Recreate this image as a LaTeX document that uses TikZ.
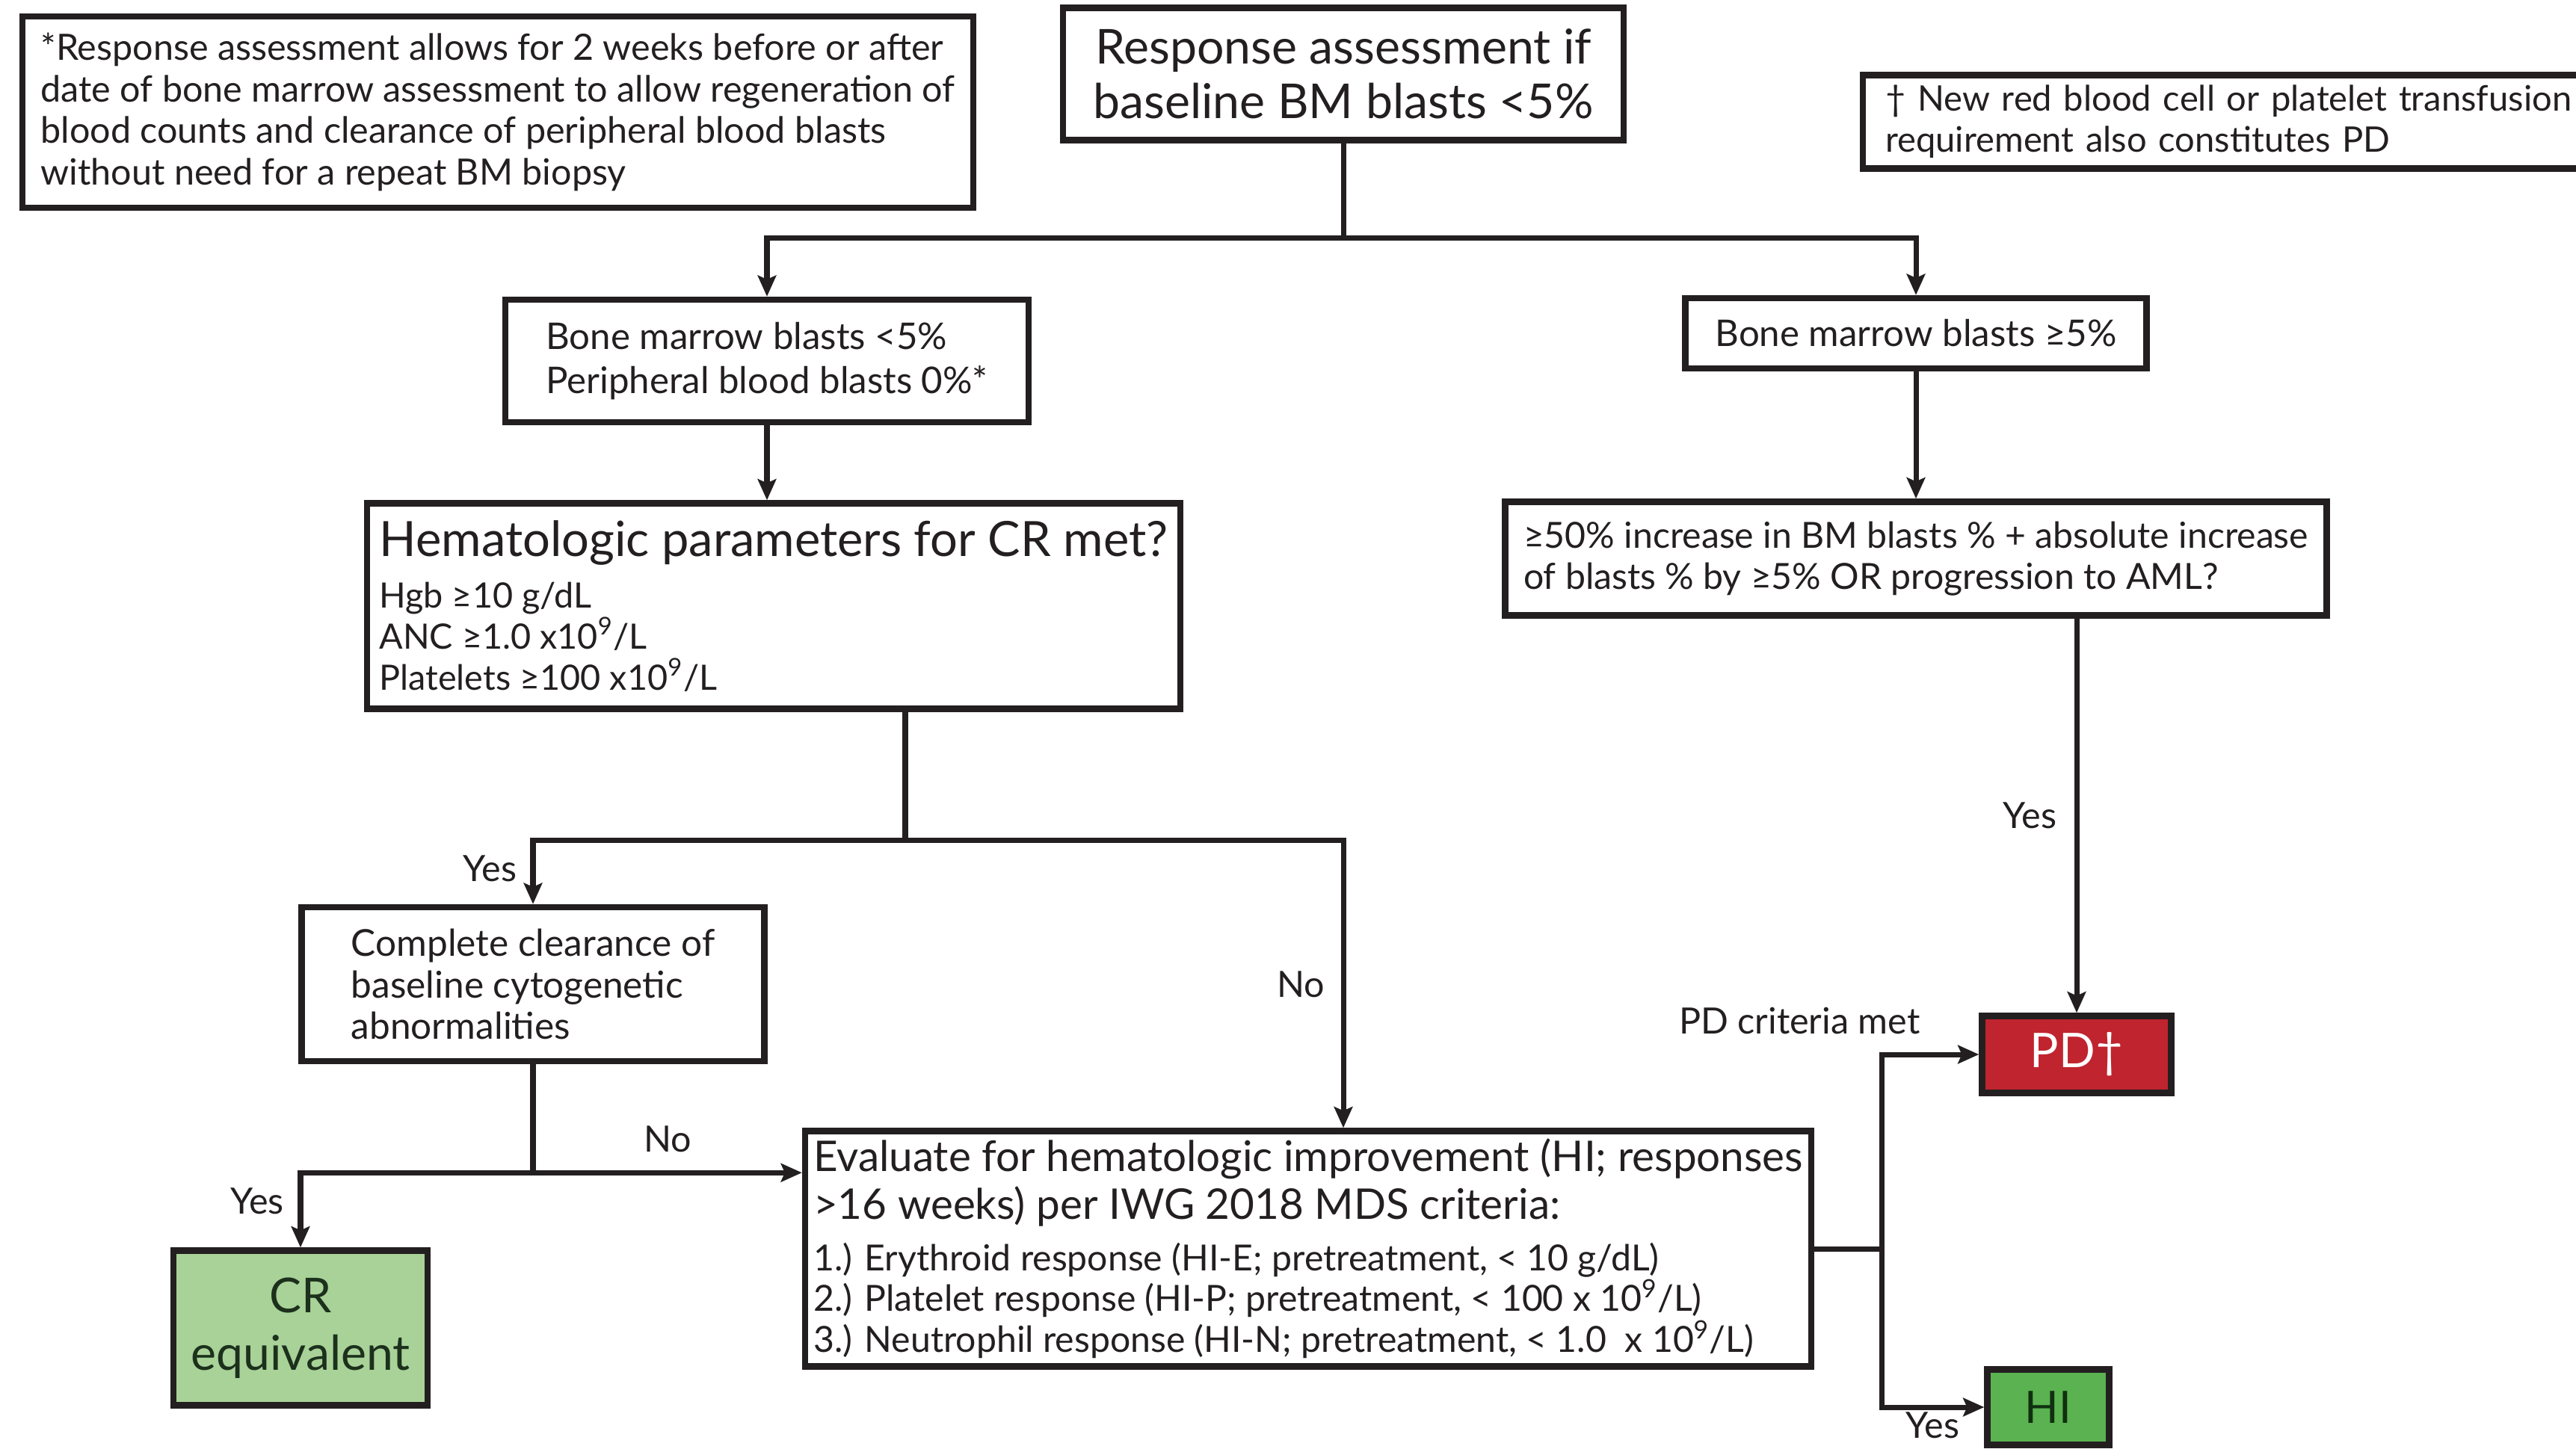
\documentclass[tikz,border=0pt]{standalone}
\usepackage{fontspec}
\setmainfont{Lato}
\usetikzlibrary{arrows.meta, positioning}
\definecolor{inkDark}{RGB}{35,31,32}
\definecolor{crGreen}{RGB}{168,210,152}
\definecolor{crText}{RGB}{28,48,28}
\definecolor{hiGreen}{RGB}{90,178,80}
\definecolor{hiText}{RGB}{16,48,16}
\definecolor{pdRed}{RGB}{192,36,47}

\begin{document}
\begin{tikzpicture}[
    box/.style={rectangle, draw=inkDark, line width=2.4pt, text=inkDark, align=left, inner sep=3pt, font=\fontsize{13.7}{15.6}\selectfont},
    endbox/.style={box, align=center},
    link/.style={draw=inkDark, line width=2pt},
    arrow/.style={link, -{Stealth[length=8pt,width=7pt,inset=1.5pt]}},
    branchlabel/.style={font=\fontsize{13.8}{15.6}\selectfont, text=inkDark, inner sep=1pt}
]
\useasboundingbox (0,0) rectangle (34.46,-19.42);
\fill[white] (0,0) rectangle (34.46,-19.42);

% notes
\node[box, font=\fontsize{13.8}{15.8}\selectfont, minimum width=12.72cm, minimum height=2.56cm] (note) at (6.66,-1.50) {*Response assessment allows for 2 weeks before or after\\ date of bone marrow assessment to allow regeneration of\\ blood counts and clearance of peripheral blood blasts\\ without need for a repeat BM biopsy};
\node[box, font=\fontsize{13.4}{15.6}\selectfont, anchor=west, text width=10.6cm, inner xsep=0.3cm, minimum height=1.25cm] (dagger) at (24.88,-1.63) {† New red blood cell or platelet transfusion\\ requirement also constitutes PD};

% decision boxes
\node[box, align=center, font=\fontsize{18.3}{20.6}\selectfont, minimum width=7.5cm, minimum height=1.77cm] (start) at (17.97,-0.99) {Response assessment if\\ baseline BM blasts <5\%};
\node[box, font=\fontsize{14}{16.8}\selectfont, minimum width=7.0cm, minimum height=1.64cm] (bmlow) at (10.26,-4.83) {Bone marrow blasts <5\%\\ Peripheral blood blasts 0\%*};
\node[box, font=\fontsize{14}{16.8}\selectfont, minimum width=6.17cm, minimum height=0.94cm] (bmhigh) at (25.63,-4.46) {Bone marrow blasts ≥5\%};
\node[box, font=\fontsize{13.3}{15.6}\selectfont, inner xsep=2pt, minimum width=10.88cm, minimum height=2.75cm] (hemat) at (10.35,-8.11) {\fontsize{18.5}{20}\selectfont Hematologic parameters for CR met?\\[4pt] Hgb ≥10 g/dL\\ ANC ≥1.0 x10\textsuperscript{9}/L\\ Platelets ≥100 x10\textsuperscript{9}/L};
\node[box, minimum width=10.99cm, minimum height=1.52cm, below=1.7cm of bmhigh] (incr) {≥50\% increase in BM blasts \% + absolute increase\\ of blasts \% by ≥5\% OR progression to AML?};
\node[box, font=\fontsize{14.1}{15.9}\selectfont, minimum width=6.19cm, minimum height=2.06cm] (clear) at (7.13,-13.17) {Complete clearance of\\ baseline cytogenetic\\ abnormalities};
\node[box, inner xsep=2pt, minimum width=13.46cm, minimum height=3.12cm] (evalhi) at (17.50,-16.71) {\fontsize{16.1}{18.2}\selectfont Evaluate for hematologic improvement (HI; responses\\[2.6pt] \fontsize{16.1}{18.2}\selectfont >16 weeks) per IWG 2018 MDS criteria:\\[3.8pt] 1.) Erythroid response (HI-E; pretreatment, < 10 g/dL)\\ 2.) Platelet response (HI-P; pretreatment, < 100 x 10\textsuperscript{9}/L)\\ 3.) Neutrophil response (HI-N; pretreatment, < 1.0 \ x 10\textsuperscript{9}/L)};

% outcomes
\node[endbox, fill=crGreen, text=crText, font=\fontsize{18.3}{21.9}\selectfont, minimum width=3.40cm, minimum height=2.07cm] (cr) at (4.02,-17.77) {CR\\ equivalent};
\node[endbox, fill=pdRed, text=white, font=\fontsize{18.2}{21}\selectfont, minimum width=2.53cm, minimum height=1.03cm] (pd) at (27.78,-14.11) {PD†};
\node[endbox, fill=hiGreen, text=hiText, font=\fontsize{17}{20}\selectfont, minimum width=1.63cm, minimum height=1.01cm] (hi) at (27.40,-18.83) {HI};

% connectors
\draw[link] (start.south) -- ++(0,-1.27) coordinate (topsplit);
\draw[arrow] (topsplit) -| (bmlow.north);
\draw[arrow] (topsplit) -| (bmhigh.north);
\draw[arrow] (bmlow.south) -- (bmlow.south |- hemat.north);
\draw[arrow] (bmhigh.south) -- (incr.north);

\draw[link] ([xshift=1.76cm]hemat.south) -- ++(0,-1.72) coordinate (hsplit);
\draw[arrow] (hsplit) -| node[branchlabel, pos=0.72, left=0.15cm] {Yes} (clear.north);
\draw[arrow] (hsplit) -| node[branchlabel, pos=0.75, left=0.18cm] {No} (start.south |- evalhi.north);

\draw[link] (clear.south) -- ++(0,-1.45) coordinate (csplit);
\draw[arrow] (csplit) -| node[branchlabel, pos=0.69, left=0.15cm] {Yes} (cr.north);
\draw[arrow] (csplit) -- node[branchlabel, midway, above=0.2cm] {No} (csplit -| evalhi.west);

\draw[arrow] (pd.north |- incr.south) -- node[branchlabel, midway, left=0.2cm] {Yes} (pd.north);

\draw[link] (evalhi.east) -- ++(0.9,0) coordinate (esplit);
\draw[arrow] (esplit) |- node[branchlabel, pos=0.5, anchor=south, xshift=-1.1cm, yshift=0.2cm] {PD criteria met} (pd.west);
\draw[arrow] (esplit) |- node[branchlabel, pos=0.75, below=0.03cm, inner sep=0pt] {Yes} (hi.west);
\end{tikzpicture}
\end{document}
